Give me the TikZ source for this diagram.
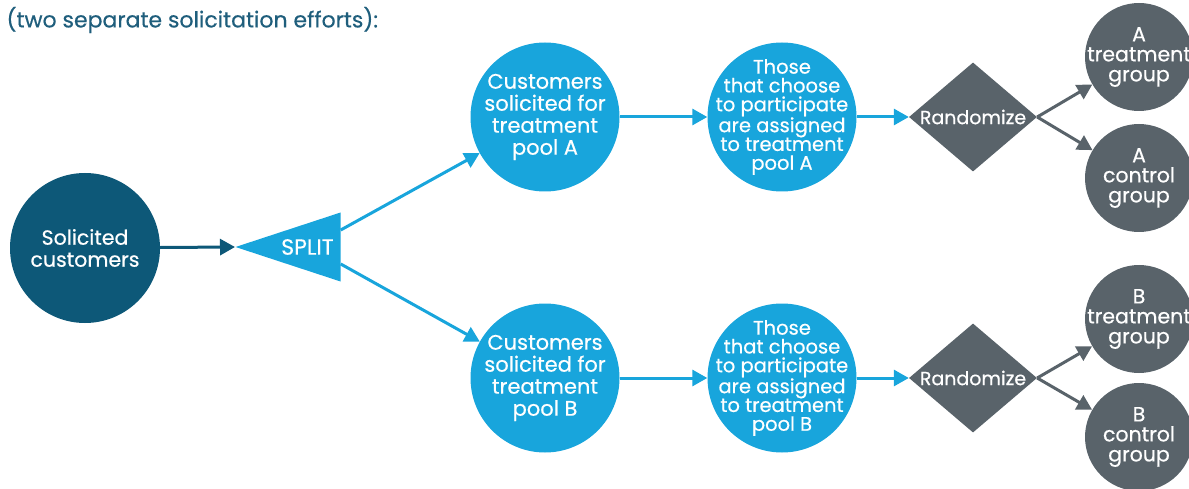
\documentclass[tikz,border=0pt]{standalone}
\usepackage{fontspec}
\setmainfont{Poppins}[FakeBold=0.5]
\usepackage{xcolor}
\usetikzlibrary{shapes.geometric,arrows.meta}
\definecolor{deepteal}{HTML}{0D5878}
\definecolor{poolblue}{HTML}{18A5DC}
\definecolor{slate}{HTML}{59636A}
\definecolor{headteal}{HTML}{1F5E7C}
\tikzset{
  bubble/.style={circle,fill=poolblue,text=white,minimum size=149pt,inner sep=-25pt,align=center},
  solbubble/.style={bubble,font=\fontsize{21}{22}\selectfont},
  choosebubble/.style={bubble,font=\fontsize{19.5}{18.8}\selectfont},
  groupdot/.style={circle,fill=slate,text=white,minimum size=108pt,inner sep=-15pt,align=center,font=\fontsize{20.5}{20}\selectfont},
  randbox/.style={diamond,fill=slate,text=white,minimum width=128pt,minimum height=109pt,inner sep=-10pt,font=\fontsize{19}{20}\selectfont},
  flow/.style={line width=3pt,poolblue,-{Triangle[length=15pt,width=16pt]}},
  grayflow/.style={line width=3pt,slate,-{Triangle[length=15pt,width=16pt]}}
}
\begin{document}
\begin{tikzpicture}[x=1pt,y=-1pt]
  \useasboundingbox (0,0) rectangle (1189,489);
  \node[anchor=west,text=headteal,font=\fontsize{22}{24}\selectfont] (head) at (3,20) {(two separate solicitation efforts):};
  \node[circle,fill=deepteal,text=white,minimum size=150pt,inner sep=0pt,align=center,font=\fontsize{20.5}{22}\selectfont] (sol) at (85,248) {Solicited\\customers};
  \node[isosceles triangle,shape border rotate=180,isosceles triangle stretches,minimum width=69pt,minimum height=105pt,inner sep=0pt,fill=poolblue,text=white,font=\fontsize{22}{24}\selectfont,anchor=apex] (split) at (235,247) {SPLIT};
  \node[solbubble] (poolA) at (545,117) {Customers\\solicited for\\treatment\\pool A};
  \node[solbubble] (poolB) at (545,378) {Customers\\solicited for\\treatment\\pool B};
  \node[choosebubble] (chooseA) at (782,117) {Those\\that choose\\to participate\\are assigned\\to treatment\\pool A};
  \node[choosebubble] (chooseB) at (782,378) {Those\\that choose\\to participate\\are assigned\\to treatment\\pool B};
  \node[randbox] (randA) at (973,117) {Randomize};
  \node[randbox] (randB) at (973,378) {Randomize};
  \node[groupdot] (treatA) at (1139,57) {A\\treatment\\group};
  \node[groupdot] (ctrlA) at (1139,178) {A\\control\\group};
  \node[groupdot] (treatB) at (1139,319) {B\\treatment\\group};
  \node[groupdot] (ctrlB) at (1139,437) {B\\control\\group};
  \draw[line width=3pt,deepteal,-{Triangle[length=15pt,width=16pt]}] (sol) -- (split.apex);
  \draw[flow] ([yshift=17pt]split.east) -- (poolA);
  \draw[flow] ([yshift=-17pt]split.east) -- (poolB);
  \draw[flow] (poolA) -- (chooseA);
  \draw[flow] (poolB) -- (chooseB);
  \draw[flow] (chooseA) -- (randA);
  \draw[flow] (chooseB) -- (randB);
  \draw[grayflow] (randA.east) -- (treatA);
  \draw[grayflow] (randA.east) -- (ctrlA);
  \draw[grayflow] (randB.east) -- (treatB);
  \draw[grayflow] (randB.east) -- (ctrlB);
\end{tikzpicture}
\end{document}
